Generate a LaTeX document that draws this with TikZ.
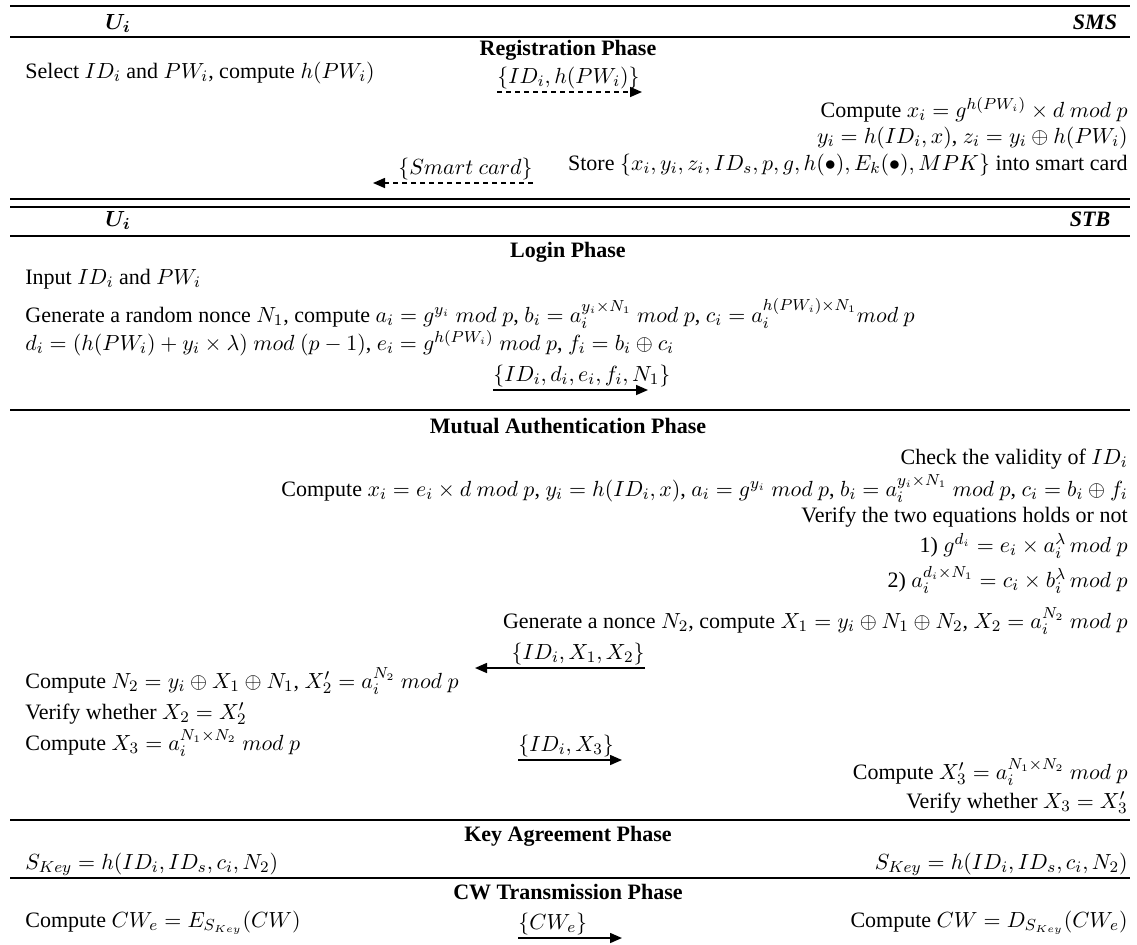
\documentclass[tikz,border=0pt]{standalone}
\usepackage{amsmath,bm}
\usepackage{fontspec}
\setmainfont{Liberation Serif}
\usetikzlibrary{arrows.meta,positioning}

\begin{document}
\begin{tikzpicture}[x=0.5pt,y=-0.5pt,
every node/.style={inner sep=0pt,font=\fontsize{11}{13}\selectfont},
lft/.style={anchor=base west},
rgt/.style={anchor=base east},
mid/.style={anchor=base},
phase/.style={anchor=base,font=\fontsize{11}{13}\selectfont\bfseries},
rule/.style={line width=0.9pt},
msg/.style={-{Triangle[length=6pt,width=5pt]},line width=0.8pt},
msgdash/.style={msg,dash pattern=on 2.5pt off 2pt}]
\useasboundingbox (0,0) rectangle (1137,944);
% horizontal rules
\foreach \y in {6,37,199,207,236,410,820,878}
  \draw[rule] (10,\y) -- (1130,\y);
% registration phase
\node[mid] (u1) at (118,29) {$\bm{U_i}$};
\node[mid] (sms) at (1095,29) {\textbf{\textit{SMS}}};
\node[phase] (reg) at (568,55) {Registration Phase};
\node[lft] (r1) at (25,78) {Select $ID_i$ and $PW_i$, compute $h(PW_i)$};
\coordinate (m1a) at (497,92);
\coordinate (m1b) at (642,92);
\node[above right=1.5pt and 0pt of m1a] (m1) {$\{ID_i, h(PW_i)\}$};
\draw[msgdash] (m1a) -- (m1b);
\node[rgt] (r2) at (1128,117) {Compute $x_i = g^{h(PW_i)} \times d\ mod\ p$};
\node[rgt] (r3) at (1128,143) {$y_i = h(ID_i, x)$, $z_i = y_i \oplus h(PW_i)$};
\node[rgt] (r4) at (1128,170) {Store $\{x_i, y_i, z_i, ID_s, p, g, h(\bullet), E_k(\bullet), MPK\}$ into smart card};
\coordinate (m2a) at (533,183);
\coordinate (m2b) at (373,183);
\node[above left=1.5pt and 0pt of m2a] (m2) {$\{Smart\ card\}$};
\draw[msgdash] (m2a) -- (m2b);
% login phase
\node[mid] (u2) at (118,226) {$\bm{U_i}$};
\node[mid] (stb) at (1090,226) {\textbf{\textit{STB}}};
\node[phase] (login) at (568,257) {Login Phase};
\node[lft] (l1) at (25,284) {Input $ID_i$ and $PW_i$};
\node[lft] (l2) at (25,322) {Generate a random nonce $N_1$, compute $a_i = g^{y_i}\ mod\ p$, $b_i = a_i^{y_i \times N_1}\ mod\ p$, $c_i = a_i^{h(PW_i) \times N_1} mod\ p$};
\node[lft] (l3) at (25,350) {$d_i = (h(PW_i) + y_i \times \lambda)\ mod\ (p-1)$, $e_i = g^{h(PW_i)}\ mod\ p$, $f_i = b_i \oplus c_i$};
\coordinate (m3a) at (493,390);
\coordinate (m3b) at (648,390);
\node[above right=1.5pt and 0pt of m3a] (m3) {$\{ID_i, d_i, e_i, f_i, N_1\}$};
\draw[msg] (m3a) -- (m3b);
% mutual authentication phase
\node[phase] (auth) at (568,433) {Mutual Authentication Phase};
\node[rgt] (a1) at (1128,464) {Check the validity of $ID_i$};
\node[rgt] (a2) at (1128,496) {Compute $x_i = e_i \times d\ mod\ p$, $y_i = h(ID_i, x)$, $a_i = g^{y_i}\ mod\ p$, $b_i = a_i^{y_i \times N_1}\ mod\ p$, $c_i = b_i \oplus f_i$};
\node[rgt] (a3) at (1128,522) {Verify the two equations holds or not};
\node[rgt] (a4) at (1128,552) {1) $g^{d_i} = e_i \times a_i^{\lambda}\, mod\ p$};
\node[rgt] (a5) at (1128,587) {2) $a_i^{d_i \times N_1} = c_i \times b_i^{\lambda}\, mod\ p$};
\node[rgt] (a6) at (1128,628) {Generate a nonce $N_2$, compute $X_1 = y_i \oplus N_1 \oplus N_2$, $X_2 = a_i^{N_2}\ mod\ p$};
\coordinate (m4a) at (645,668);
\coordinate (m4b) at (475,668);
\node[above left=1.5pt and 0pt of m4a] (m4) {$\{ID_i, X_1, X_2\}$};
\draw[msg] (m4a) -- (m4b);
\node[lft] (a7) at (25,688) {Compute $N_2 = y_i \oplus X_1 \oplus N_1$, $X_2' = a_i^{N_2}\ mod\ p$};
\node[lft] (a8) at (25,719) {Verify whether $X_2 = X_2'$};
\node[lft] (a9) at (25,750) {Compute $X_3 = a_i^{N_1 \times N_2}\ mod\ p$};
\coordinate (m5a) at (518,760);
\coordinate (m5b) at (622,760);
\node[above right=1.5pt and 0pt of m5a] (m5) {$\{ID_i, X_3\}$};
\draw[msg] (m5a) -- (m5b);
\node[rgt] (a10) at (1128,779) {Compute $X_3' = a_i^{N_1 \times N_2}\ mod\ p$};
\node[rgt] (a11) at (1128,808) {Verify whether $X_3 = X_3'$};
% key agreement phase
\node[phase] (key) at (568,841) {Key Agreement Phase};
\node[lft] (k1) at (25,869) {$S_{Key} = h(ID_i, ID_s, c_i, N_2)$};
\node[rgt] (k2) at (1128,869) {$S_{Key} = h(ID_i, ID_s, c_i, N_2)$};
% CW transmission phase
\node[phase] (cw) at (568,899) {CW Transmission Phase};
\node[lft] (c1) at (25,927) {Compute $CW_e = E_{S_{Key}}(CW)$};
\coordinate (m6a) at (518,938);
\coordinate (m6b) at (622,938);
\node[above right=1.5pt and 0pt of m6a] (m6) {$\{CW_e\}$};
\draw[msg] (m6a) -- (m6b);
\node[rgt] (c2) at (1128,927) {Compute $CW = D_{S_{Key}}(CW_e)$};
\end{tikzpicture}
\end{document}
